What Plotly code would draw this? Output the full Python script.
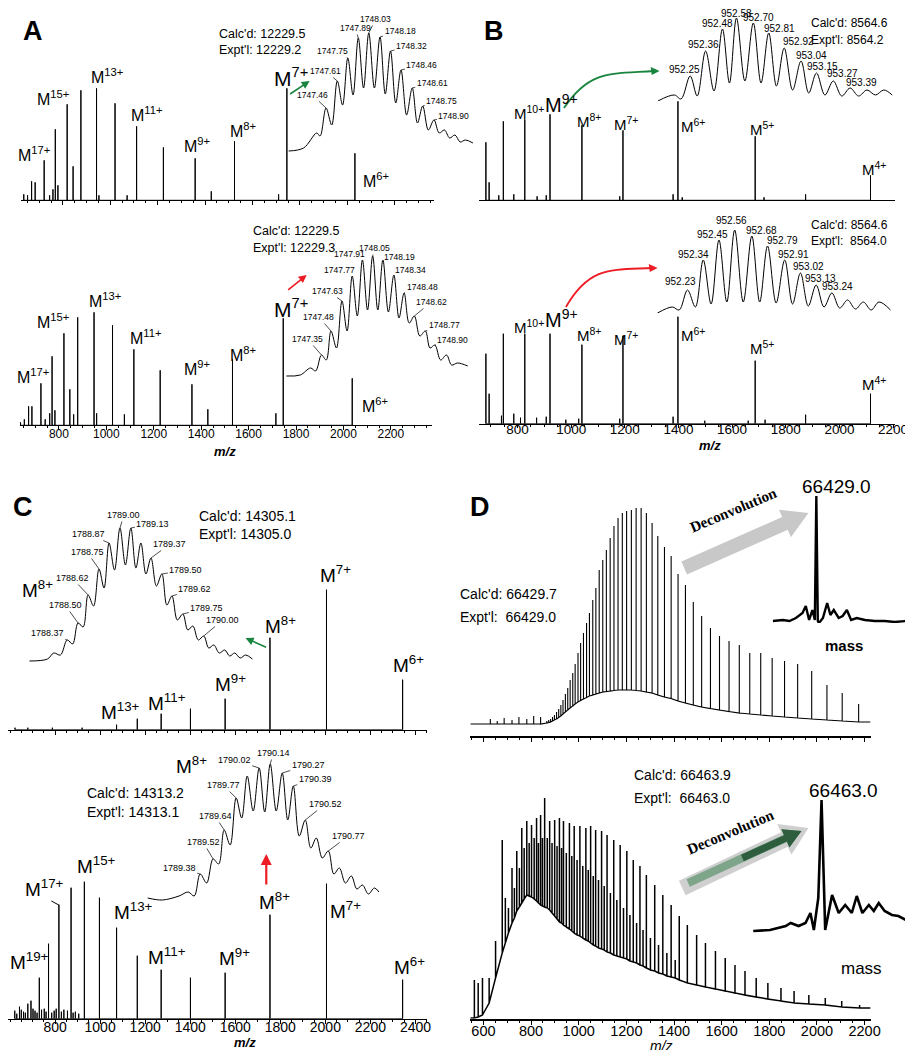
import math
import plotly.graph_objects as go

W, H = 913, 1050
FONT = "Arial, Liberation Sans, sans-serif"
SERIF = "Times New Roman, Liberation Serif, serif"

# ---------------- data ----------------
# Panel A (12229.5 Da) - charge state spectra
A_TOP_MZ = [635, 651, 668, 683, 721, 744, 758, 768, 779, 818, 843, 876, 942, 952,
            1020, 1071, 1111, 1224, 1358, 1426, 1524, 1710, 1745, 2032]
A_TOP_INT = [6, 5, 19, 18, 40, 5, 11, 71, 15, 96, 34, 110, 112, 5,
             97, 5, 74, 53, 42, 9, 59, 6, 112, 47]
A_BOT_MZ = [638, 654, 672, 686, 724, 742, 761, 771, 783, 821, 846, 862, 879, 948, 959,
            1026, 1076, 1116, 1227, 1361, 1428, 1532, 1715, 1746, 2037]
A_BOT_INT = [3, 6, 19, 19, 42, 6, 12, 69, 15, 92, 36, 11, 108, 113, 12,
             100, 11, 76, 55, 41, 16, 66, 12, 107, 47]
A_CHARGES = [17, 15, 13, 11, 9, 8, 7, 6]

# Panel A isotope insets (M7+)
A_TOP_ISO_MZ = [1746.96, 1747.16, 1747.335, 1747.38, 1747.46, 1747.535, 1747.61, 1747.68,
                1747.75, 1747.82, 1747.89, 1747.96, 1748.03, 1748.105, 1748.18, 1748.25,
                1748.32, 1748.39, 1748.46, 1748.535, 1748.61, 1748.68, 1748.75, 1748.825,
                1748.90, 1748.97, 1749.04, 1749.11, 1749.18, 1749.25, 1749.32, 1749.42]
A_TOP_ISO_INT = [2, 5, 20, 17, 45, 28, 72, 48, 95, 58, 115, 65, 120, 65, 116, 59,
                 102, 50, 83, 38, 65, 30, 47, 23, 33, 20, 23, 15, 18, 11, 13, 10]
A_TOP_ISO_LABELS = [1747.46, 1747.61, 1747.75, 1747.89, 1748.03, 1748.18, 1748.32,
                    1748.46, 1748.61, 1748.75, 1748.90]
A_BOT_ISO_MZ = [1746.87, 1747.06, 1747.20, 1747.27, 1747.35, 1747.415, 1747.48, 1747.555,
                1747.63, 1747.70, 1747.77, 1747.84, 1747.91, 1747.98, 1748.05, 1748.12,
                1748.19, 1748.265, 1748.34, 1748.41, 1748.48, 1748.55, 1748.62, 1748.695,
                1748.77, 1748.835, 1748.90, 1748.98, 1749.06, 1749.13, 1749.21, 1749.35]
A_BOT_ISO_INT = [2, 3, 10, 7, 23, 18, 47, 30, 77, 47, 102, 62, 118, 68, 122, 68,
                 118, 66, 103, 60, 85, 55, 62, 42, 47, 30, 33, 18, 23, 13, 15, 12]
A_BOT_ISO_LABELS = [1747.35, 1747.48, 1747.63, 1747.77, 1747.91, 1748.05, 1748.19,
                    1748.34, 1748.48, 1748.62, 1748.77, 1748.90]

# Panel B (8564.6 Da)
B_TOP_MZ = [682, 694, 730, 747, 786, 827, 873, 907, 921, 1040, 1181, 1193, 1380, 1398,
            1414, 1686, 1719, 1874, 2116]
B_TOP_INT = [58, 18, 5, 79, 6, 81, 4, 5, 86, 75, 4, 70, 6, 99, 3, 64, 3, 6, 25]
B_BOT_MZ = [682, 694, 740, 747, 786, 811, 827, 871, 907, 921, 980, 1028, 1040, 1181, 1193,
            1380, 1398, 1498, 1660, 1686, 1723, 1874, 2116]
B_BOT_INT = [70, 30, 8, 90, 10, 6, 90, 6, 7, 90, 4, 5, 79, 5, 88, 7, 107, 3, 3, 63, 4, 9, 30]
B_CHARGES = [10, 9, 8, 7, 6, 5, 4]

B_TOP_ISO_MZ = [952.02, 952.138, 952.185, 952.25, 952.30, 952.36, 952.42, 952.48, 952.53,
                952.58, 952.64, 952.70, 952.755, 952.81, 952.865, 952.92, 952.98, 953.04,
                953.095, 953.15, 953.21, 953.27, 953.33, 953.39, 953.45, 953.51, 953.57,
                953.63, 953.69]
B_TOP_ISO_INT = [0, 6, 2, 25, 5, 50, 10, 72, 18, 83, 20, 78, 18, 68, 15, 53, 11, 40,
                 8, 28, 6, 20, 5, 13, 5, 11, 6, 11, 6]
B_TOP_ISO_LABELS = [952.25, 952.36, 952.48, 952.58, 952.70, 952.81, 952.92, 953.04,
                    953.15, 953.27, 953.39]
B_BOT_ISO_MZ = [952.02, 952.124, 952.172, 952.23, 952.285, 952.34, 952.395, 952.45, 952.505,
                952.56, 952.62, 952.68, 952.735, 952.79, 952.85, 952.91, 952.965, 953.02,
                953.075, 953.13, 953.185, 953.24, 953.295, 953.35, 953.405, 953.46, 953.515,
                953.57, 953.65]
B_BOT_ISO_INT = [0, 6, 3, 23, 6, 53, 9, 73, 11, 83, 11, 77, 11, 67, 10, 53, 9, 40,
                 7, 28, 6, 20, 5, 13, 4, 11, 3, 11, 3]
B_BOT_ISO_LABELS = [952.23, 952.34, 952.45, 952.56, 952.68, 952.79, 952.91, 953.02,
                    953.13, 953.24]

# Panel C (14305.1 / 14313.2 Da)
C_TOP_MZ = [622, 679, 788, 920, 1073, 1165, 1271, 1401, 1555, 1754, 2005, 2343]
C_TOP_INT = [2, 2, 2, 2, 5, 11, 16, 21, 31, 92, 140, 50]
C_BOT_MZ = [621, 630, 642, 650, 660, 668, 679, 693, 702, 711, 720, 730, 740, 752, 760, 771,
            785, 796, 805, 817, 828, 839, 855, 871, 880, 890, 905, 930, 997, 1073, 1165,
            1271, 1401, 1555, 1754, 2005, 2343]
C_BOT_INT = [8, 5, 12, 9, 7, 6, 15, 18, 10, 8, 6, 41, 9, 10, 7, 75, 6, 8, 10, 114, 7, 9, 8,
             131, 6, 7, 5, 137, 121, 91, 63, 49, 41, 46, 104, 135, 39]
C_TOP_CHARGES = [13, 11, 9, 8, 7, 6]
C_BOT_CHARGES = [19, 17, 15, 13, 11, 9, 8, 7, 6]

C_TOP_ISO_MZ = [1787.92, 1788.135, 1788.21, 1788.29, 1788.37, 1788.435, 1788.50, 1788.56,
                1788.62, 1788.685, 1788.75, 1788.81, 1788.87, 1788.935, 1789.00, 1789.065,
                1789.13, 1789.19, 1789.25, 1789.31, 1789.37, 1789.435, 1789.50, 1789.56,
                1789.62, 1789.685, 1789.75, 1789.81, 1789.87, 1789.935, 1790.00, 1790.06,
                1790.12, 1790.185, 1790.25, 1790.31, 1790.37, 1790.435, 1790.50, 1790.58]
C_TOP_ISO_INT = [2, 4, 10, 8, 23, 19, 40, 36, 68, 57, 94, 75, 120, 93, 135, 98,
                 135, 95, 120, 89, 105, 77, 89, 58, 67, 43, 49, 33, 37, 23, 27, 15,
                 18, 10, 13, 7, 10, 5, 8, 4]
C_TOP_ISO_LABELS = [1788.37, 1788.50, 1788.62, 1788.75, 1788.87, 1789.00, 1789.13,
                    1789.37, 1789.50, 1789.62, 1789.75, 1790.00]
C_BOT_ISO_MZ = [1788.81, 1788.97, 1789.15, 1789.25, 1789.315, 1789.38, 1789.45, 1789.52,
                1789.58, 1789.64, 1789.705, 1789.77, 1789.83, 1789.89, 1789.955, 1790.02,
                1790.08, 1790.14, 1790.205, 1790.27, 1790.33, 1790.39, 1790.455, 1790.52,
                1790.58, 1790.64, 1790.705, 1790.77, 1790.83, 1790.89, 1790.955, 1791.02,
                1791.08, 1791.14, 1791.205, 1791.27, 1791.32]
C_BOT_ISO_INT = [5, 3, 7, 11, 7, 29, 20, 44, 39, 73, 58, 105, 85, 127, 92, 135,
                 91, 139, 92, 130, 83, 117, 67, 83, 55, 65, 45, 52, 29, 35, 20, 27,
                 14, 18, 9, 15, 11]
C_BOT_ISO_LABELS = [1789.38, 1789.52, 1789.64, 1789.77, 1790.02, 1790.14, 1790.27,
                    1790.39, 1790.52, 1790.77]

# Panel D (66 kDa) - peak tops and the hump underneath each peak
D_TOP_MZ = [629, 658, 687, 720, 749, 782, 811, 840,
            866, 874, 882, 890, 898, 907, 916, 925, 934, 944, 954, 964, 975, 985, 997, 1008,
            1020, 1033, 1045, 1059, 1072, 1086, 1101, 1116, 1132, 1148, 1165, 1183, 1201,
            1221, 1241, 1262, 1284, 1308, 1332, 1360, 1388, 1417, 1448, 1481, 1516, 1553,
            1591, 1631, 1674, 1718, 1764, 1812, 1864, 1919, 1978, 2042, 2106, 2175]
D_TOP_INT = [7, 5, 8, 6, 9, 7, 10, 9,
             5, 6, 7, 9, 11, 14, 17, 21, 26, 32, 38, 46, 53, 62, 73, 83,
             93, 103, 113, 126, 138, 156, 166, 176, 188, 200, 208, 213, 215,
             216, 218, 218, 213, 203, 190, 179, 170, 152, 141, 124, 110, 98,
             90, 85, 81, 73, 73, 68, 65, 62, 55, 41, 33, 22]
D_TOP_BASE = [2, 2, 2, 2, 2, 2, 2, 2,
              3, 3.5, 4, 5, 6, 7, 8.5, 10, 12, 14, 16, 18, 20, 22, 24, 25.5,
              27, 28.5, 30, 31, 32, 33, 34, 34.5, 35, 35.5, 36, 36, 36,
              36, 35.5, 35, 34, 33, 31, 29, 27.5, 25, 23, 21, 19, 17.5,
              16, 14.5, 13, 12, 11, 10, 9, 8, 7, 6, 5, 4]
D_BOT_MZ = [562, 578, 596, 624, 651, 679, 692, 720, 740, 761, 782, 802, 823, 840, 857, 878,
            899, 919, 936, 961, 981, 1005, 1030, 1050, 1071, 1096, 1119, 1147, 1174, 1202,
            1229, 1257, 1284, 1319, 1353, 1388, 1422, 1456, 1495, 1532, 1574, 1615, 1656,
            1698, 1745, 1794, 1849, 1904, 1966, 2035, 2104, 2179,
            705, 730, 751, 771, 792, 813, 831, 848, 868, 888, 909, 928, 948, 971, 993, 1017,
            1040, 1061, 1083, 1107, 1133, 1160, 1188, 1215, 1243, 1270, 1301, 1335, 1370, 1405]
D_BOT_TOP = [38, 35, 40, 40, 77, 178, 120, 150, 167, 190, 197, 193, 200, 203, 220, 197,
             198, 200, 197, 195, 192, 192, 190, 192, 188, 187, 183, 178, 173, 167,
             158, 152, 143, 133, 123, 113, 102, 93, 83, 75, 67, 60, 53,
             47, 40, 35, 30, 27, 23, 20, 17, 13,
             110, 130, 150, 170, 175, 180, 175, 180, 180, 175, 172, 170, 165, 162, 158, 152,
             148, 142, 138, 132, 125, 118, 110, 103, 95, 88, 80, 73, 65, 58]
D_BOT_BASE = [0, 1, 3, 15, 40, 65, 75, 95, 107, 115, 123, 121, 117, 113, 111, 108,
              102, 96, 93, 89, 85, 82, 78, 75, 72, 69, 66, 63, 61, 59,
              56, 53, 50, 47, 44, 41, 38, 35, 33, 31, 29, 27, 25,
              23, 21, 19, 17, 15, 14, 13, 11, 10,
              85, 100, 111, 119, 122, 119, 115, 112, 110, 105, 99, 95, 91, 87, 83, 80,
              77, 73, 70, 68, 65, 62, 60, 57, 55, 52, 48, 45, 42, 40]

# deconvoluted mass spectra (D insets)
D_TOP_DECONV_MASS = [65549, 65749, 65883, 66015, 66149, 66215, 66283, 66349, 66399, 66429,
                     66459, 66483, 66563, 66649, 66715, 66783, 66883, 66963, 67049, 67135,
                     67249, 67415, 67615, 67815, 68015, 68249]
D_TOP_DECONV_INT = [2, 3, 2, 5, 10, 17, 3, 13, 3, 127, 2, 0, 5, 20, 8, 13, 5, 7, 13, 3,
                    5, 3, 2, 2, 1, 2]
D_BOT_DECONV_MASS = [65077, 65417, 65737, 65837, 65997, 66137, 66237, 66307, 66397, 66463,
                     66537, 66677, 66811, 66943, 67077, 67177, 67291, 67423, 67523, 67623,
                     67743, 67891, 68023, 68177]
D_BOT_DECONV_INT = [2, 3, 7, 10, 7, 10, 20, 3, 35, 133, 3, 38, 20, 28, 20, 37, 20, 28, 22,
                    30, 22, 18, 17, 13]

CALC = {"A1": 12229.5, "A2": 12229.5, "B1": 8564.6, "B2": 8564.6,
        "C1": 14305.1, "C2": 14313.2, "D1": 66429.7, "D2": 66463.9}
EXPT = {"A1": 12229.2, "A2": 12229.3, "B1": 8564.2, "B2": 8564.0,
        "C1": 14305.0, "C2": 14313.1, "D1": 66429.0, "D2": 66463.0}

A_TICKS = [800, 1000, 1200, 1400, 1600, 1800, 2000, 2200]
B_TICKS = [800, 1000, 1200, 1400, 1600, 1800, 2000, 2200]
C_TICKS = [800, 1000, 1200, 1400, 1600, 1800, 2000, 2200, 2400]
D_TICKS = [600, 800, 1000, 1200, 1400, 1600, 1800, 2000, 2200]

# ---------------- figure ----------------
fig = go.Figure()
layout = dict(width=W, height=H, margin=dict(l=0, r=0, t=0, b=0),
              paper_bgcolor="white", plot_bgcolor="rgba(0,0,0,0)", showlegend=False,
              font=dict(family=FONT, color="black"))
annotations = []
shapes = []


def fx(x):
    return x / W


def fy(y):
    return 1 - y / H


def axes(n, xpx, ypx, xrange, yrange):
    sx = "" if n == 1 else str(n)
    layout["xaxis" + sx] = dict(domain=[fx(xpx[0]), fx(xpx[1])], range=xrange,
                                anchor="y" + sx, visible=False, showgrid=False,
                                zeroline=False, fixedrange=True)
    layout["yaxis" + sx] = dict(domain=[fy(ypx[0]), fy(ypx[1])], range=yrange,
                                anchor="x" + sx, visible=False, showgrid=False,
                                zeroline=False, fixedrange=True)
    return "x" + sx, "y" + sx


def mz_axis(n, ticks, labels, size=12, lw=1, major=4, minor=2, show_ticks=True, standoff=0):
    sx = "" if n == 1 else str(n)
    ax = layout["xaxis" + sx]
    ax.update(visible=True, showline=True, linecolor="black", linewidth=lw,
              tickvals=ticks, showticklabels=labels, ticklabelstandoff=standoff,
              tickfont=dict(size=size, color="black", family=FONT))
    if show_ticks:
        ax.update(ticks="outside", ticklen=major, tickwidth=1, tickcolor="black",
                  minor=dict(ticks="outside", ticklen=minor, tickcolor="black",
                             dtick=50, tick0=0))
    else:
        ax.update(ticks="")


def sticks(mz, top, base=None, lead=None, tail=None):
    order = sorted(range(len(mz)), key=lambda i: mz[i])
    xs, ys = [], []
    if lead is not None:
        xs.append(lead[0]); ys.append(lead[1])
    for i in order:
        b = base[i] if base else 0
        xs += [mz[i], mz[i], mz[i]]
        ys += [b, top[i], b]
    if tail is not None:
        xs.append(tail[0]); ys.append(tail[1])
    return xs, ys


def line(xref, yref, xs, ys, width=1.0, spline=False):
    fig.add_trace(go.Scatter(x=xs, y=ys, xaxis=xref, yaxis=yref, mode="lines",
                             line=dict(color="black", width=width,
                                       shape="spline" if spline else "linear",
                                       smoothing=1.0 if spline else None),
                             hoverinfo="skip"))


def text(x, y, s, size, anchor="left", **kw):
    annotations.append(dict(xref="paper", yref="paper", x=fx(x), y=fy(y), text=s,
                            showarrow=False, xanchor=anchor, yanchor="middle",
                            font=dict(size=size, color="black", family=kw.pop("family", FONT)),
                            **kw))


def m_labels(charges, pos, size, big=None, big_size=None):
    for z, (x, y) in zip(charges, pos):
        s = big_size if z == big else size
        text(x, y, f"M<sup>{z}+</sup>", s)


def iso_labels(xref, yref, mzs, ints, labels, offsets, size, arrow=True):
    for lab, (dx, dy) in zip(labels, offsets):
        i = min(range(len(mzs)), key=lambda k: abs(mzs[k] - lab))
        a = dict(xref=xref, yref=yref, x=lab, y=ints[i], text=f"{lab:.2f}",
                 font=dict(size=size, color="black", family=FONT))
        if arrow:
            a.update(showarrow=True, arrowhead=0, arrowwidth=0.7, arrowcolor="black",
                     ax=dx, ay=dy)
        else:
            a.update(showarrow=False, xshift=dx, yshift=-dy)
        annotations.append(a)


def arrow(tail, head, color, width=1.6):
    annotations.append(dict(xref="paper", yref="paper", x=fx(head[0]), y=fy(head[1]),
                            ax=tail[0] - head[0], ay=tail[1] - head[1], text="",
                            showarrow=True, arrowhead=2, arrowsize=1, arrowwidth=width,
                            arrowcolor=color))


def fat_arrow(p0, p1, hs, hh, hl):
    (x0, y0), (x1, y1) = p0, p1
    L = math.hypot(x1 - x0, y1 - y0)
    ux, uy = (x1 - x0) / L, (y1 - y0) / L
    nx, ny = -uy, ux
    bx, by = x1 - ux * hl, y1 - uy * hl
    pts = [(x0 + nx * hs, y0 + ny * hs), (bx + nx * hs, by + ny * hs),
           (bx + nx * hh, by + ny * hh), (x1, y1), (bx - nx * hh, by - ny * hh),
           (bx - nx * hs, by - ny * hs), (x0 - nx * hs, y0 - ny * hs)]
    return "M " + " L ".join(f"{fx(a)},{fy(b)}" for a, b in pts) + " Z"


def curved_arrow(pts, color):
    (a, b), (c, d), (e, f), (g, h) = pts
    shapes.append(dict(type="path", xref="paper", yref="paper",
                       path=f"M {fx(a)},{fy(b)} C {fx(c)},{fy(d)} {fx(e)},{fy(f)} {fx(g)},{fy(h)}",
                       line=dict(color=color, width=1.8)))
    shapes.append(dict(type="path", xref="paper", yref="paper", fillcolor=color,
                       line=dict(width=0),
                       path=f"M {fx(g + 6)},{fy(h)} L {fx(g - 3)},{fy(h - 4)} L {fx(g - 2)},{fy(h + 4)} Z"))


def calc_expt(key, x, y1, y2, size, pad=""):
    text(x, y1, f"Calc'd: {CALC[key]:.1f}", size)
    text(x, y2, f"Expt'l:{pad} {EXPT[key]:.1f}", size)


GREEN = "#17853d"
RED = "#ee1c24"

# ---- Panel A ----
xa, ya = axes(1, (13, 432), (192.3, 40), [622.5, 2365], [0, 152.3])
mz_axis(1, A_TICKS, False)
line(xa, ya, *sticks(A_TOP_MZ, A_TOP_INT))
xa, ya = axes(2, (12, 430), (417.3, 265), [635, 2373], [0, 152.3])
mz_axis(2, A_TICKS, True, size=12, standoff=-7)
line(xa, ya, *sticks(A_BOT_MZ, A_BOT_INT))
xa, ya = axes(3, (283, 473), (145, 20), [1746.938, 1749.438], [0, 125])
line(xa, ya, A_TOP_ISO_MZ, A_TOP_ISO_INT, spline=True)
iso_labels(xa, ya, A_TOP_ISO_MZ, A_TOP_ISO_INT, A_TOP_ISO_LABELS,
           [(-14, -13), (-12, -10), (-15, -7), (-3, -10), (7, -14), (20, -6), (21, -5),
            (21, -5), (20, -5), (19, -5), (20, -4)], 8.5)
xa, ya = axes(4, (281, 468), (370, 245), [1746.851, 1749.372], [0, 125])
line(xa, ya, A_BOT_ISO_MZ, A_BOT_ISO_INT, spline=True)
iso_labels(xa, ya, A_BOT_ISO_MZ, A_BOT_ISO_INT, A_BOT_ISO_LABELS,
           [(-14, -16), (-12, -14), (-14, -10), (-13, -6), (-13, -6), (2, -8), (17, -3),
            (17, -5), (18, -6), (17, -14), (19, -6), (18, -5)], 8.5)
text(13, 23, "<b>A</b>", 27)
calc_expt("A1", 212, 26, 42, 12.5)
calc_expt("A2", 247, 223, 240, 12.5)
m_labels(A_CHARGES, [(8, 146), (27, 90), (82, 68), (123, 106), (177, 137), (223, 122),
                     (268, 69), (358, 172)], 16, big=7, big_size=21)
m_labels(A_CHARGES, [(7, 368), (27, 313), (80, 292), (122, 329), (177, 360), (223, 346),
                     (268, 300), (357, 397)], 16, big=7, big_size=21)
arrow((285, 87), (306, 73), GREEN)
arrow((283, 283), (303, 267), RED)
text(220, 444, "<b><i>m/z</i></b>", 13, anchor="center")

# ---- Panel B ----
xa, ya = axes(5, (478, 900), (192.3, 80), [657, 2208], [0, 112.3])
mz_axis(5, B_TICKS, False, show_ticks=False)
line(xa, ya, *sticks(B_TOP_MZ, B_TOP_INT))
xa, ya = axes(6, (478, 900), (415.7, 300), [657, 2208], [0, 115.7])
mz_axis(6, B_TICKS, True, size=13.5, major=3, minor=2, standoff=-10)
line(xa, ya, *sticks(B_BOT_MZ, B_BOT_INT))
xa, ya = axes(7, (657, 900), (93, 5), [952.004, 953.711], [0, 88])
line(xa, ya, B_TOP_ISO_MZ, B_TOP_ISO_INT, spline=True)
iso_labels(xa, ya, B_TOP_ISO_MZ, B_TOP_ISO_INT, B_TOP_ISO_LABELS,
           [(-6, -6), (-2, -6), (-5, -5), (0, -4), (5, -5), (11, -4), (14, -6), (10, -5),
            (6, -6), (9, -7), (11, -5)], 10, arrow=False)
xa, ya = axes(8, (657, 900), (305, 215), [952.007, 953.683], [0, 90])
line(xa, ya, B_BOT_ISO_MZ, B_BOT_ISO_INT, spline=True)
iso_labels(xa, ya, B_BOT_ISO_MZ, B_BOT_ISO_INT, B_BOT_ISO_LABELS,
           [(-7, -8), (-10, -5), (-6, -5), (-3, -9), (10, -5), (15, -5), (9, -5), (8, -6),
            (4, -6), (6, -6)], 10, arrow=False)
text(481, 23, "<b>B</b>", 27)
calc_expt("B1", 813, 15, 32, 12)
calc_expt("B2", 813, 217, 233, 12, pad="&nbsp;")
m_labels(B_CHARGES, [(511, 104), (543, 96), (575, 112), (613, 115), (681, 118), (751, 120),
                     (864, 160)], 15, big=9, big_size=20)
m_labels(B_CHARGES, [(511, 319), (543, 311), (575, 326), (613, 330), (681, 327), (751, 339),
                     (864, 375)], 15, big=9, big_size=20)
curved_arrow([(564, 100), (590, 62), (610, 66), (655, 63)], GREEN)
curved_arrow([(566, 299), (590, 258), (612, 262), (653, 260)], RED)
text(712, 437, "<b><i>m/z</i></b>", 13, anchor="center")

# ---- Panel C ----
xa, ya = axes(9, (0, 425), (721.7, 560), [591, 2451], [0, 161.7])
mz_axis(9, C_TICKS, False)
line(xa, ya, *sticks(C_TOP_MZ, C_TOP_INT))
xa, ya = axes(10, (0, 425), (1010.7, 845), [591, 2451], [0, 165.7])
mz_axis(10, C_TICKS, True, size=14, standoff=-9)
line(xa, ya, *sticks(C_BOT_MZ, C_BOT_INT))
xa, ya = axes(11, (20, 250), (655, 515), [1787.899, 1790.605], [0, 140])
line(xa, ya, C_TOP_ISO_MZ, C_TOP_ISO_INT, spline=True)
iso_labels(xa, ya, C_TOP_ISO_MZ, C_TOP_ISO_INT, C_TOP_ISO_LABELS,
           [(-20, -7), (-13, -18), (-16, -17), (-12, -17), (-21, -9), (4, -13), (22, -4),
            (19, -14), (24, -4), (23, -7), (24, -6), (19, -16)], 9)
xa, ya = axes(12, (140, 380), (895, 755), [1788.792, 1791.359], [0, 140])
line(xa, ya, C_BOT_ISO_MZ, C_BOT_ISO_INT, spline=True)
iso_labels(xa, ya, C_BOT_ISO_MZ, C_BOT_ISO_INT, C_BOT_ISO_LABELS,
           [(-21, -6), (-10, -17), (-9, -14), (-13, -13), (-25, -8), (3, -11), (26, -8),
            (22, -7), (20, -16), (20, -15)], 9)
text(3, 499, "<b>C</b>", 27)
calc_expt("C1", 192, 508, 526, 14)
calc_expt("C2", 78, 785, 804, 14)
m_labels(C_TOP_CHARGES, [(92, 703), (140, 694), (208, 675), (259, 617), (314, 566),
                         (389, 656)], 19)
m_labels(C_BOT_CHARGES, [(0, 953), (15, 880), (68, 857), (105, 903), (140, 948),
                         (212, 949), (253, 893), (325, 902), (390, 958)], 19)
text(12, 581, "M<sup>8+</sup>", 19)
text(168, 757, "M<sup>8+</sup>", 19)
shapes.append(dict(type="line", xref="paper", yref="paper", x0=fx(44), y0=fy(893),
                   x1=fx(51.5), y1=fy(897), line=dict(color="black", width=1)))
arrow((263, 640), (241, 630), GREEN)
arrow((262, 878), (262, 846), RED, width=2.2)
text(240, 1034, "<b><i>m/z</i></b>", 13, anchor="center")

# ---- Panel D ----
shapes.append(dict(type="path", xref="paper", yref="paper", fillcolor="#c8c8c8",
                   line=dict(width=0), path=fat_arrow((686, 560), (812, 505), 7, 15, 26)))
shapes.append(dict(type="path", xref="paper", yref="paper", fillcolor="#cfcfcf",
                   line=dict(width=0), path=fat_arrow((684, 880), (812, 820), 8, 17, 27)))
shapes.append(dict(type="path", xref="paper", yref="paper", fillcolor="#7ea58a",
                   line=dict(width=0), path=fat_arrow((690, 875), (805, 823), 4, 10, 18)))
shapes.append(dict(type="path", xref="paper", yref="paper", fillcolor="#2f5e3f",
                   line=dict(width=0), path=fat_arrow((745, 850), (805, 823), 3.5, 10, 18)))

xa, ya = axes(13, (469, 875), (727.7, 460), [545, 2225], [-9.7, 258])
mz_axis(13, D_TICKS, False, lw=2)
line(xa, ya, *sticks(D_TOP_MZ, D_TOP_INT, D_TOP_BASE,
                     lead=(545, D_TOP_BASE[0]), tail=(2225, D_TOP_BASE[-1])), width=1.1)
xa, ya = axes(14, (469, 875), (1010.7, 785), [545, 2225], [-0.7, 225])
mz_axis(14, D_TICKS, True, size=14.5, lw=2, standoff=-6)
line(xa, ya, *sticks(D_BOT_MZ, D_BOT_TOP, D_BOT_BASE,
                     lead=(545, 0), tail=(2225, D_BOT_BASE[51])), width=1.5)
xa, ya = axes(15, (774, 913), (615, 485), [65509, 68289], [0, 130])
line(xa, ya, D_TOP_DECONV_MASS, D_TOP_DECONV_INT, width=2.4)
xa, ya = axes(16, (754, 913), (925, 785), [65037, 68217], [0, 140])
line(xa, ya, D_BOT_DECONV_MASS, D_BOT_DECONV_INT, width=2.6)

text(467, 499, "<b>D</b>", 27)
calc_expt("D1", 457, 586, 609, 14, pad="&nbsp;")
calc_expt("D2", 633, 767, 790, 14, pad="&nbsp;")
text(840, 478, f"{EXPT['D1']:.1f}", 19, anchor="center")
text(848, 782, f"{EXPT['D2']:.1f}", 19, anchor="center")
text(736, 502, "<b>Deconvolution</b>", 15, anchor="center", textangle=-23, family=SERIF)
text(733, 824, "<b>Deconvolution</b>", 15, anchor="center", textangle=-23, family=SERIF)
text(848, 637, "<b>mass</b>", 15, anchor="center")
text(866, 960, "mass", 17, anchor="center")
text(663, 1038, "<i>m/z</i>", 14, anchor="center")

layout["annotations"] = annotations
layout["shapes"] = shapes
fig.update_layout(**layout)
fig.write_html("out.html")
